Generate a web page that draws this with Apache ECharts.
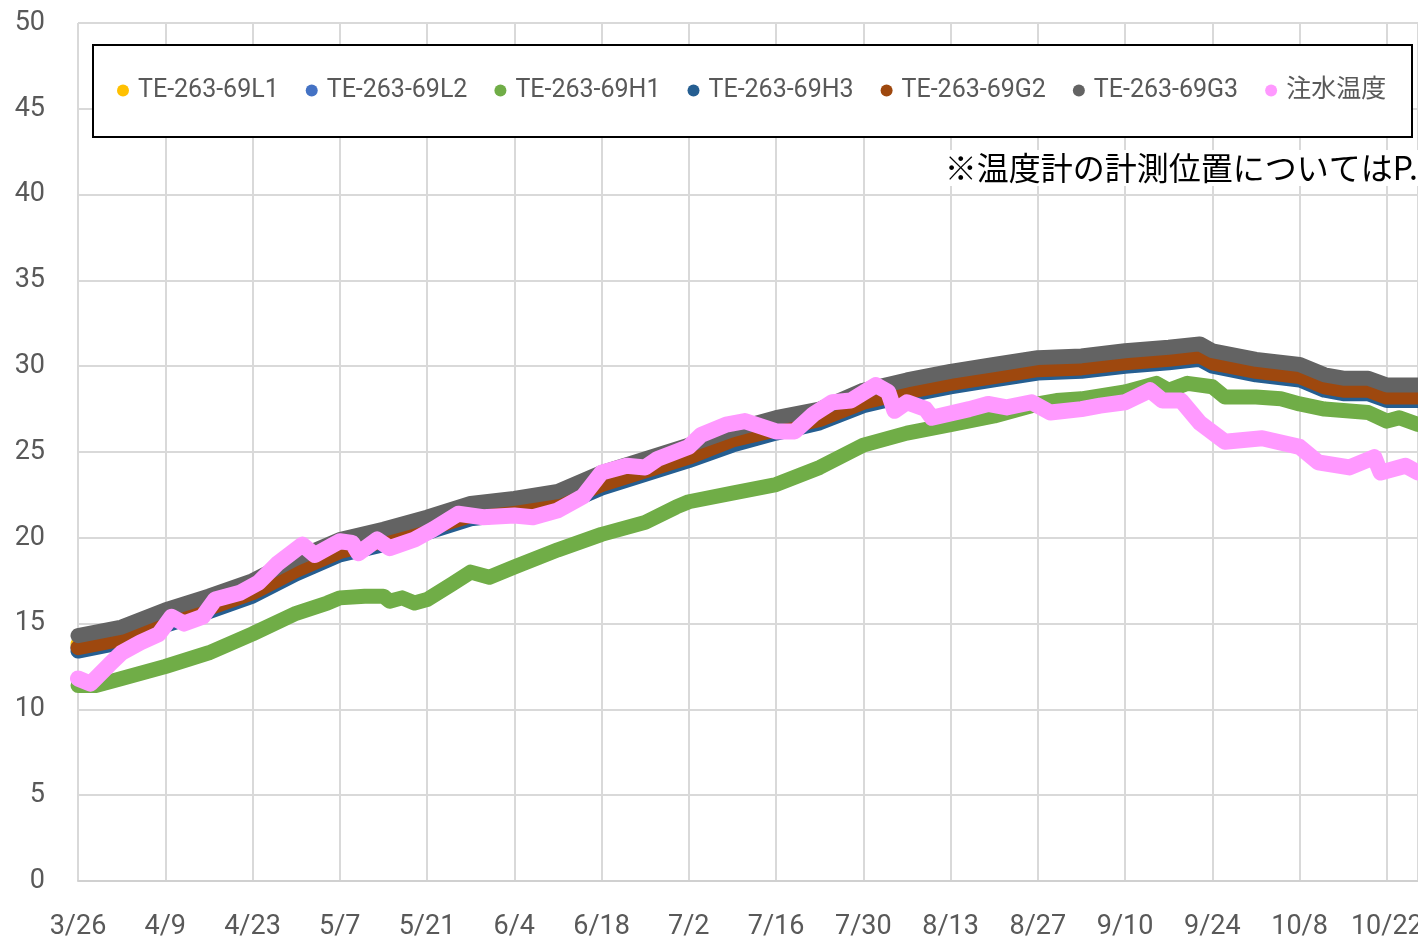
<!DOCTYPE html>
<html><head><meta charset="utf-8">
<script src="https://cdn.jsdelivr.net/npm/echarts@6/dist/echarts.min.js"></script>
<style>html,body{margin:0;padding:0;background:#fff;overflow:hidden}#c{width:1418px;height:942px}</style>
</head><body><div id="c"></div>
<script>
// x-axis tick labels (every 14 days from 3/26)
const xTickLabels = ['3/26','4/9','4/23','5/7','5/21','6/4','6/18','7/2','7/16','7/30','8/13','8/27','9/10','9/24','10/8','10/22'];
const seriesNames = ['TE-263-69L1','TE-263-69L2','TE-263-69H1','TE-263-69H3','TE-263-69G2','TE-263-69G3','注水温度'];
const seriesColors = ['#FFC000','#4472C4','#70AD47','#255E91','#9E480E','#636363','#FF99FF'];

// days since 3/26
const sensorDays = [0,7,14,21,28,35,42,49,56,63,70,77,84,91,98,105,112,119,126,133,140,147,154,161,168,175,180,182,189,196,200,203,207,210,215];
const g3Values = [14.3,14.8,15.8,16.6,17.5,18.8,19.9,20.5,21.2,22.0,22.3,22.7,23.8,24.6,25.4,26.3,27.0,27.5,28.6,29.2,29.7,30.1,30.5,30.6,30.9,31.1,31.3,30.9,30.4,30.1,29.5,29.3,29.3,28.9,28.9];
const g2Values = [13.6,14.1,15.1,15.9,16.8,18.1,19.2,19.8,20.5,21.3,21.6,22.0,23.1,23.9,24.7,25.7,26.3,26.9,27.9,28.5,29.0,29.4,29.8,29.9,30.2,30.4,30.6,30.2,29.7,29.4,28.8,28.6,28.6,28.2,28.2];
const h3Values = [13.4,13.9,14.9,15.7,16.6,17.9,19.0,19.6,20.3,21.1,21.4,21.8,22.9,23.7,24.5,25.4,26.1,26.7,27.7,28.3,28.8,29.2,29.6,29.7,30.0,30.2,30.4,30.0,29.5,29.2,28.6,28.4,28.4,28.0,28.0];
const l1Values = [13.8,14.3,15.3,16.1,17.0,18.3,19.4,20.0,20.7,21.5,21.8,22.2,23.3,24.1,24.9,25.9,26.5,27.1,28.1,28.7,29.2,29.6,30.0,30.1,30.4,30.6,30.8,30.4,29.9,29.6,29.0,28.8,28.8,28.4,28.4];
const l2Values = [13.6,14.2,15.1,16.0,16.9,18.1,19.2,19.9,20.6,21.3,21.7,22.1,23.1,24.0,24.7,25.7,26.4,27.0,28.0,28.5,29.0,29.4,29.8,29.9,30.2,30.4,30.6,30.2,29.7,29.4,28.8,28.6,28.6,28.2,28.2];

const h1Days = [0,3,7,14,21,28,35,40,42,46,49,50,52,54,56,60,63,66,70,77,84,91,96,98,105,112,119,126,133,140,147,154,157,161,168,173,175,178,182,184,189,193,196,200,207,210,212,215];
const h1Values = [11.4,11.4,11.8,12.5,13.3,14.4,15.6,16.2,16.5,16.6,16.6,16.3,16.5,16.2,16.4,17.3,18.0,17.7,18.3,19.3,20.2,20.9,21.8,22.1,22.6,23.1,24.1,25.4,26.1,26.6,27.1,27.8,28.0,28.1,28.5,29.0,28.6,29.0,28.8,28.2,28.2,28.1,27.8,27.5,27.3,26.8,27.0,26.6];

const pinkDays = [0,2,5,7,10,13,15,17,20,22,26,29,32,36,38,42,44,45,48,50,54,57,61,65,70,73,77,81,84,88,91,93,98,100,104,107,112,115,118,121,124,128,130,131,133,136,137,143,146,149,153,156,161,164,168,172,174,177,180,184,190,196,199,204,208,209,213,215];
const pinkValues = [11.8,11.5,12.6,13.3,13.9,14.4,15.4,15.0,15.4,16.4,16.8,17.4,18.5,19.6,19.0,19.8,19.7,19.1,19.9,19.4,19.9,20.5,21.4,21.2,21.3,21.2,21.6,22.4,23.8,24.2,24.1,24.6,25.3,26.0,26.6,26.8,26.2,26.2,27.2,27.9,28.0,28.9,28.5,27.4,27.9,27.5,27.0,27.5,27.8,27.6,27.9,27.3,27.5,27.7,27.9,28.6,28.0,28.0,26.7,25.6,25.8,25.3,24.4,24.1,24.7,23.8,24.2,23.8];

const seriesDays = [sensorDays,sensorDays,h1Days,sensorDays,sensorDays,sensorDays,pinkDays];
const seriesValues = [l1Values,l2Values,h1Values,h3Values,g2Values,g3Values,pinkValues];

const FONT = "Roboto,'Noto Sans CJK JP',sans-serif";
const chart = echarts.init(document.getElementById('c'));
chart.setOption({
  animation: false,
  backgroundColor: '#ffffff',
  grid: {left: 78, right: 0, top: 23, bottom: 61, containLabel: false, outerBoundsMode: 'none'},
  xAxis: {
    type: 'value', min: 0, max: 215, interval: 14,
    axisLine: {show: true, lineStyle: {color: '#d0d0d0', width: 2}},
    axisTick: {show: false},
    splitLine: {show: true, lineStyle: {color: '#d9d9d9', width: 2}},
    axisLabel: {
      showMaxLabel: false, hideOverlap: false, margin: 33, color: '#595959', fontSize: 27, fontFamily: FONT,
      formatter: v => (v % 14 === 0 && xTickLabels[v / 14]) ? xTickLabels[v / 14] : ''
    }
  },
  yAxis: {
    type: 'value', min: 0, max: 50, interval: 5,
    axisLine: {show: false}, axisTick: {show: false},
    splitLine: {show: true, lineStyle: {color: '#d9d9d9', width: 2}},
    axisLabel: {margin: 33, color: '#595959', fontSize: 27, fontFamily: FONT}
  },
  legend: {
    data: seriesNames.map(n => ({name: n, icon: 'circle'})),
    left: 117, top: 78, width: 1300, padding: 0, itemGap: 27, itemWidth: 20, itemHeight: 12,
    textStyle: {color: '#595959', fontSize: 25, fontFamily: FONT},
    z: 5
  },
  graphic: [
    {type: 'rect', z: 4, shape: {x: 93, y: 45, width: 1319, height: 92},
     style: {fill: '#ffffff', stroke: '#000000', lineWidth: 2}},
    {type: 'text', z: 4, x: 1418, y: 168,
     style: {text: '※温度計の計測位置についてはP.', fill: '#000000', align: 'right', verticalAlign: 'middle',
             font: "32px 'Noto Sans CJK JP', sans-serif", backgroundColor: '#ffffff', padding: [2, 0, 2, 4]}}
  ],
  series: seriesNames.map((name, i) => ({
    name, type: 'line', showSymbol: false, symbol: 'circle', clip: false,
    color: seriesColors[i],
    lineStyle: {color: seriesColors[i], width: i === 6 ? 16 : 15, cap: 'round', join: 'round'},
    data: seriesDays[i].map((d, k) => [d, seriesValues[i][k]]),
    z: 2 + i
  }))
});
</script></body></html>
